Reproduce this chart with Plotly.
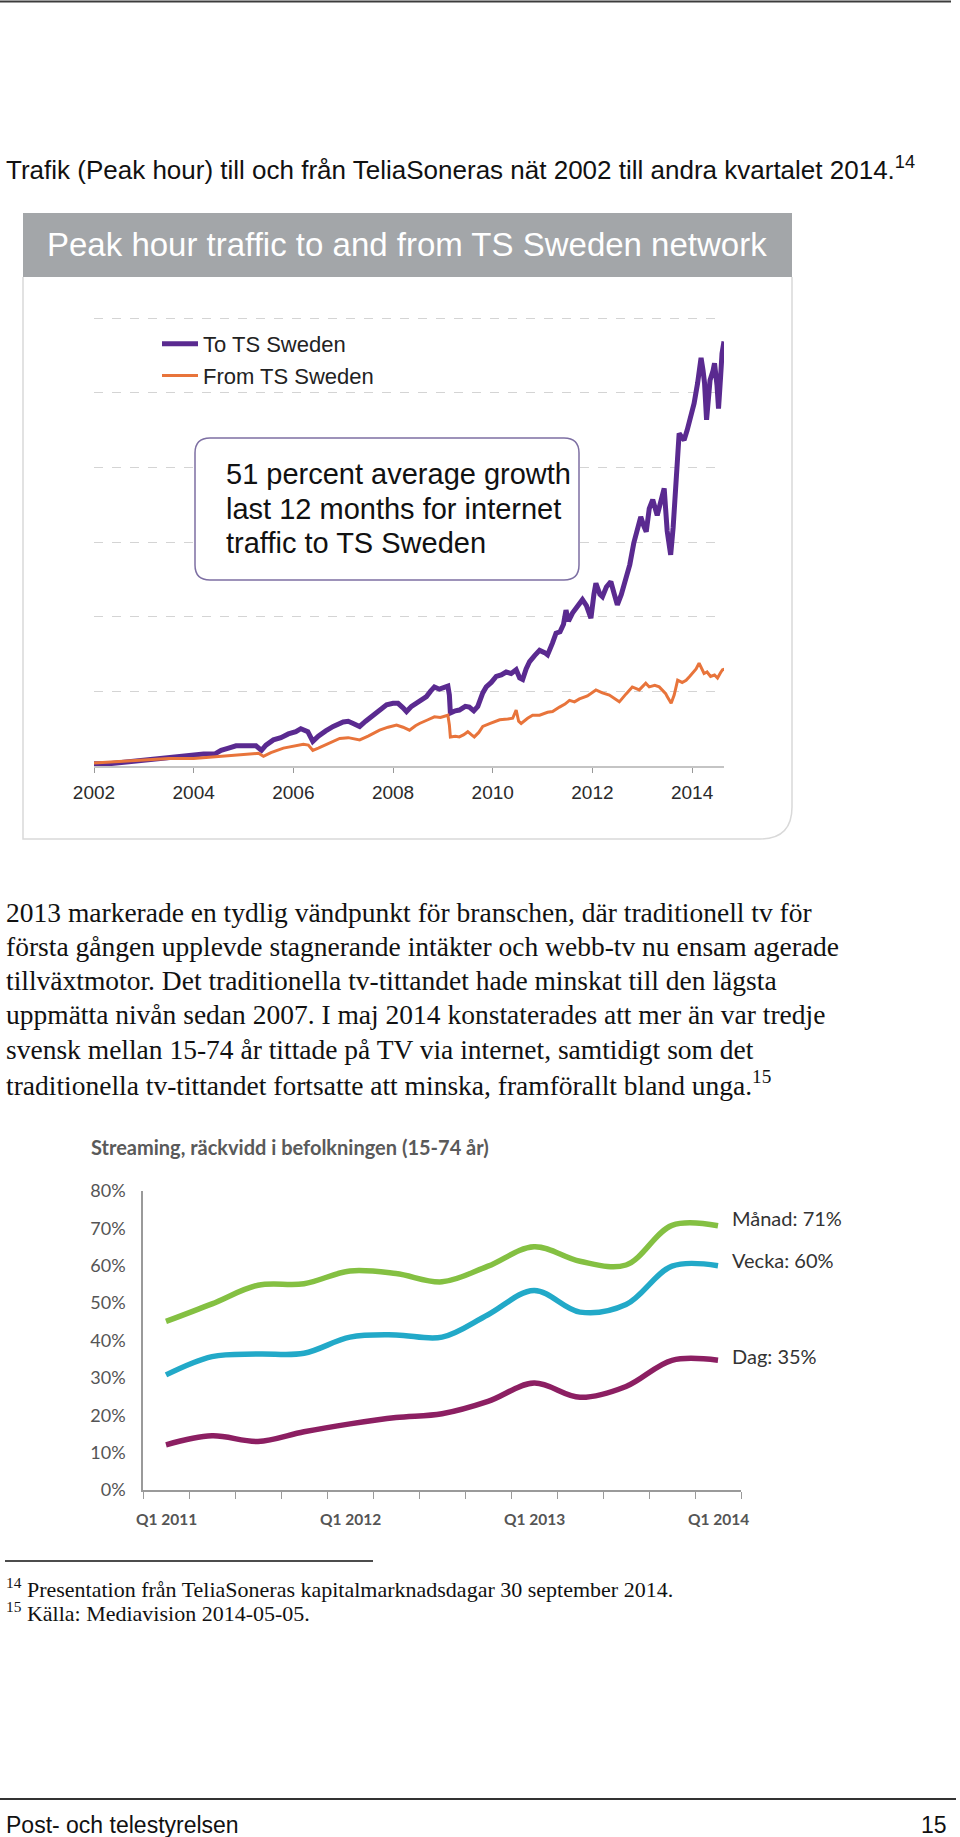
import plotly.graph_objects as go

# ---------------- data: chart 1 (peak hour traffic, relative units) ----------------
to_years = [2002.00, 2002.30, 2002.60, 2002.90, 2003.10, 2003.40, 2003.70, 2004.00, 2004.20, 2004.42,
            2004.55, 2004.70, 2004.85, 2005.06, 2005.25, 2005.36, 2005.45, 2005.60, 2005.75, 2005.90,
            2006.05, 2006.15, 2006.29, 2006.39, 2006.50, 2006.65, 2006.80, 2007.00, 2007.10, 2007.20,
            2007.33, 2007.45, 2007.60, 2007.75, 2007.87, 2008.00, 2008.10, 2008.20, 2008.27, 2008.37,
            2008.47, 2008.57, 2008.67, 2008.75, 2008.83, 2008.93, 2009.03, 2009.10, 2009.13, 2009.15,
            2009.25, 2009.33, 2009.45, 2009.53, 2009.62, 2009.70, 2009.80, 2009.87, 2009.97, 2010.07,
            2010.17, 2010.27, 2010.37, 2010.47, 2010.54, 2010.60, 2010.67, 2010.74, 2010.84, 2010.94,
            2011.04, 2011.10, 2011.20, 2011.27, 2011.35, 2011.42, 2011.47, 2011.52, 2011.60, 2011.70,
            2011.80, 2011.88, 2011.97, 2012.03, 2012.07, 2012.15, 2012.20, 2012.28, 2012.37, 2012.44,
            2012.50, 2012.58, 2012.67, 2012.75, 2012.83, 2012.90, 2012.97, 2013.03, 2013.08, 2013.14,
            2013.21, 2013.30, 2013.37, 2013.44, 2013.50, 2013.57, 2013.62, 2013.67, 2013.71, 2013.74,
            2013.80, 2013.84, 2013.90, 2013.94, 2014.00, 2014.04, 2014.11, 2014.18, 2014.22, 2014.25,
            2014.29, 2014.33, 2014.36, 2014.42, 2014.45, 2014.50, 2014.53, 2014.57, 2014.60, 2014.64]
to_values = [0.03, 0.03, 0.05, 0.07, 0.08, 0.10, 0.13, 0.15, 0.16, 0.16,
             0.21, 0.24, 0.27, 0.27, 0.27, 0.21, 0.28, 0.35, 0.38, 0.43,
             0.46, 0.50, 0.46, 0.33, 0.40, 0.47, 0.53, 0.59, 0.60, 0.57,
             0.53, 0.60, 0.68, 0.75, 0.82, 0.84, 0.84, 0.78, 0.73, 0.80,
             0.84, 0.88, 0.93, 1.00, 1.06, 1.03, 1.06, 1.07, 0.95, 0.71,
             0.74, 0.75, 0.80, 0.79, 0.74, 0.80, 0.98, 1.06, 1.12, 1.20,
             1.22, 1.26, 1.24, 1.29, 1.18, 1.16, 1.30, 1.40, 1.48, 1.55,
             1.52, 1.49, 1.65, 1.78, 1.80, 1.90, 2.09, 1.94, 2.05, 2.15,
             2.23, 2.15, 1.98, 2.30, 2.45, 2.30, 2.27, 2.40, 2.47, 2.30,
             2.16, 2.30, 2.49, 2.70, 2.99, 3.20, 3.34, 3.22, 3.14, 3.45,
             3.57, 3.36, 3.55, 3.72, 3.15, 2.83, 3.20, 3.80, 4.28, 4.46,
             4.40, 4.37, 4.50, 4.59, 4.75, 4.86, 5.13, 5.47, 5.30, 5.13,
             4.64, 5.00, 5.17, 5.30, 5.40, 5.10, 4.79, 5.20, 5.53, 5.69]

from_years = [2002.00, 2002.50, 2003.00, 2003.50, 2004.00, 2004.40, 2004.80, 2005.10, 2005.30, 2005.40,
              2005.55, 2005.80, 2006.00, 2006.20, 2006.30, 2006.39, 2006.50, 2006.60, 2006.80, 2006.93,
              2007.10, 2007.33, 2007.50, 2007.73, 2007.90, 2008.07, 2008.20, 2008.33, 2008.45, 2008.53,
              2008.70, 2008.83, 2008.95, 2009.10, 2009.13, 2009.15, 2009.25, 2009.33, 2009.42, 2009.50,
              2009.57, 2009.63, 2009.72, 2009.80, 2009.95, 2010.14, 2010.30, 2010.40, 2010.47, 2010.52,
              2010.57, 2010.70, 2010.80, 2010.94, 2011.10, 2011.20, 2011.34, 2011.45, 2011.54, 2011.64,
              2011.74, 2011.90, 2012.07, 2012.20, 2012.34, 2012.45, 2012.54, 2012.68, 2012.80, 2012.94,
              2013.07, 2013.14, 2013.25, 2013.34, 2013.47, 2013.50, 2013.58, 2013.64, 2013.71, 2013.80,
              2013.88, 2013.95, 2014.01, 2014.08, 2014.14, 2014.20, 2014.24, 2014.30, 2014.37, 2014.45,
              2014.51, 2014.57, 2014.61, 2014.66]
from_values = [0.04, 0.06, 0.09, 0.10, 0.10, 0.12, 0.15, 0.16, 0.17, 0.13,
               0.18, 0.24, 0.27, 0.29, 0.28, 0.21, 0.24, 0.27, 0.33, 0.37,
               0.38, 0.35, 0.40, 0.48, 0.52, 0.55, 0.52, 0.48, 0.54, 0.57,
               0.62, 0.66, 0.65, 0.68, 0.55, 0.39, 0.40, 0.39, 0.42, 0.46,
               0.42, 0.39, 0.45, 0.53, 0.57, 0.62, 0.63, 0.64, 0.75, 0.60,
               0.57, 0.64, 0.68, 0.68, 0.72, 0.73, 0.79, 0.83, 0.88, 0.86,
               0.90, 0.94, 1.02, 0.98, 0.95, 0.90, 0.86, 0.97, 1.06, 1.02,
               1.11, 1.06, 1.08, 1.06, 0.97, 0.93, 0.84, 0.95, 1.15, 1.12,
               1.15, 1.20, 1.24, 1.30, 1.38, 1.30, 1.24, 1.26, 1.20, 1.22,
               1.18, 1.25, 1.29, 1.30]

traffic_ticks = [2002, 2004, 2006, 2008, 2010, 2012, 2014]
traffic_series_names = ["To TS Sweden", "From TS Sweden"]

# ---------------- data: chart 2 (streaming reach, %) ----------------
quarters = ["Q1 2011", "Q2 2011", "Q3 2011", "Q4 2011",
            "Q1 2012", "Q2 2012", "Q3 2012", "Q4 2012",
            "Q1 2013", "Q2 2013", "Q3 2013", "Q4 2013", "Q1 2014"]
manad = [45.1, 49.8, 54.8, 55.2, 58.6, 57.9, 55.7, 59.9, 65.1, 61.2, 60.2, 70.8, 70.7]
vecka = [30.8, 35.7, 36.4, 36.6, 40.9, 41.5, 40.9, 46.9, 53.4, 47.6, 49.6, 59.9, 60.0]
dag = [12.1, 14.5, 13.0, 15.6, 17.7, 19.4, 20.4, 23.7, 28.6, 24.8, 27.7, 34.7, 34.7]
stream_labels = ["Månad: 71%", "Vecka: 60%", "Dag: 35%"]
pct_ticks = [0, 10, 20, 30, 40, 50, 60, 70, 80]

# ---------------- page geometry helpers ----------------
W, H = 960, 1837


def X(px):
    return px / W


def Y(py):
    return 1 - py / H


fig = go.Figure()

# chart 1 traces
fig.add_trace(go.Scatter(x=to_years, y=to_values, mode="lines", name=traffic_series_names[0],
                         line=dict(color="#5a2a90", width=5), xaxis="x", yaxis="y",
                         legendgroup="a"))
fig.add_trace(go.Scatter(x=from_years, y=from_values, mode="lines", name=traffic_series_names[1],
                         line=dict(color="#e8743b", width=3), xaxis="x", yaxis="y",
                         legendgroup="a"))

# chart 2 traces
qx = list(range(len(quarters)))
stream_colors = ["#84c042", "#22a9c8", "#8c1f62"]
for vals, col in zip([manad, vecka, dag], stream_colors):
    fig.add_trace(go.Scatter(x=qx, y=vals, mode="lines", showlegend=False,
                             line=dict(color=col, width=5.5, shape="spline", smoothing=1.0),
                             xaxis="x2", yaxis="y2"))

annotations = []
# right-end labels of chart 2, anchored to data coordinates
label_y = [manad[-1] + 2.0, vecka[-1] + 1.5, dag[-1] + 1.2]
for t, yv in zip(stream_labels, label_y):
    annotations.append(dict(text=t, x=len(quarters) - 1 + 0.26, y=yv, xref="x2", yref="y2",
                            xanchor="left", yanchor="middle", showarrow=False,
                            font=dict(family="Lato", size=20, color="#333333")))
# quarter labels of chart 2 (only Q1 of each year), centred on their category
for i, q in enumerate(quarters):
    if q.startswith("Q1"):
        annotations.append(dict(text=q, x=i, y=Y(1519), xref="x2", yref="paper",
                                xanchor="center", yanchor="middle", showarrow=False,
                                font=dict(family="Lato", size=15.5, color="#555555", weight="bold")))

serif = "Liberation Serif"
sans = "Liberation Sans"


def txt(text, px, py, size, family=sans, color="#111111", xanchor="left", weight=None):
    f = dict(family=family, size=size, color=color)
    if weight:
        f["weight"] = weight
    annotations.append(dict(text=text, x=X(px), y=Y(py), xref="paper", yref="paper",
                            xanchor=xanchor, yanchor="middle", showarrow=False, font=f))


txt("Trafik (Peak hour) till och från TeliaSoneras nät 2002 till andra kvartalet 2014.<sup>14</sup>",
    4, 168, 26)
txt("Peak hour traffic to and from TS Sweden network", 45, 244, 33, color="#ffffff")
txt("51 percent average growth", 224, 474, 29)
txt("last 12 months for internet", 224, 509, 29)
txt("traffic to TS Sweden", 224, 543, 29)

body = ["2013 markerade en tydlig vändpunkt för branschen, där traditionell tv för",
        "första gången upplevde stagnerande intäkter och webb-tv nu ensam agerade",
        "tillväxtmotor. Det traditionella tv-tittandet hade minskat till den lägsta",
        "uppmätta nivån sedan 2007. I maj 2014 konstaterades att mer än var tredje",
        "svensk mellan 15-74 år tittade på TV via internet, samtidigt som det",
        "traditionella tv-tittandet fortsatte att minska, framförallt bland unga.<sup>15</sup>"]
for i, line in enumerate(body):
    txt(line, 4, 912 + i * 34.3, 27.5, family=serif)

txt("Streaming, räckvidd i befolkningen (15-74 år)", 89, 1147, 20, family="Lato",
    color="#5a5a5a", weight="bold")

txt("<sup>14</sup> Presentation från TeliaSoneras kapitalmarknadsdagar 30 september 2014.",
    4, 1588, 22, family=serif)
txt("<sup>15</sup> Källa: Mediavision 2014-05-05.", 4, 1612, 22, family=serif)
txt("Post- och telestyrelsen", 4, 1825, 23)
txt("15", 949, 1825, 23, xanchor="right")


def rrect(x0, y0, x1, y1, r):
    return (f"M {X(x0 + r)},{Y(y0)} L {X(x1 - r)},{Y(y0)} Q {X(x1)},{Y(y0)} {X(x1)},{Y(y0 + r)} "
            f"L {X(x1)},{Y(y1 - r)} Q {X(x1)},{Y(y1)} {X(x1 - r)},{Y(y1)} "
            f"L {X(x0 + r)},{Y(y1)} Q {X(x0)},{Y(y1)} {X(x0)},{Y(y1 - r)} "
            f"L {X(x0)},{Y(y0 + r)} Q {X(x0)},{Y(y0)} {X(x0 + r)},{Y(y0)} Z")


shapes = [
    # top rule
    dict(type="line", xref="paper", yref="paper", x0=X(0), x1=X(951), y0=Y(1.5), y1=Y(1.5),
         line=dict(color="#3c3c3c", width=2)),
    # chart 1 frame (white panel with soft border and rounded bottom-right corner)
    dict(type="path", xref="paper", yref="paper", layer="below",
         path=(f"M {X(23)},{Y(277)} L {X(23)},{Y(839)} L {X(760)},{Y(839)} "
               f"Q {X(792)},{Y(839)} {X(792)},{Y(807)} L {X(792)},{Y(277)}"),
         line=dict(color="#d9d9d9", width=1.5), fillcolor="rgba(0,0,0,0)"),
    # chart 1 grey header
    dict(type="rect", xref="paper", yref="paper", layer="below",
         x0=X(23), x1=X(792), y0=Y(277), y1=Y(213), fillcolor="#a3a6a9", line=dict(width=0)),
    # callout box
    dict(type="path", xref="paper", yref="paper", layer="above", path=rrect(195, 438, 579, 580, 15),
         fillcolor="#ffffff", line=dict(color="#7d6fa3", width=1.5)),
    # footnote separator
    dict(type="line", xref="paper", yref="paper", x0=X(5), x1=X(373), y0=Y(1561), y1=Y(1561),
         line=dict(color="#111111", width=1.5)),
    # footer rule
    dict(type="line", xref="paper", yref="paper", x0=X(0), x1=X(956), y0=Y(1799), y1=Y(1799),
         line=dict(color="#333333", width=2)),
]

axis_font = dict(family=sans, size=19, color="#2a2a2a")
stream_axis_font = dict(family="Lato", size=18, color="#555555")

y_top = 6.02
fig.update_layout(
    width=W, height=H, margin=dict(l=0, r=0, t=0, b=0, autoexpand=False),
    paper_bgcolor="#ffffff", plot_bgcolor="rgba(0,0,0,0)",
    showlegend=True,
    legend=dict(x=X(157), y=Y(323), xanchor="left", yanchor="top", bgcolor="rgba(0,0,0,0)",
                font=dict(family=sans, size=22, color="#222222"), itemwidth=36,
                tracegroupgap=0, traceorder="normal"),
    xaxis=dict(domain=[X(94), X(724)], range=[2002, 2014.64], anchor="y",
               tickvals=traffic_ticks, ticktext=[str(t) for t in traffic_ticks],
               ticks="outside", ticklen=5, tickcolor="#999999", tickwidth=1,
               showline=True, linecolor="#c4c4c4", linewidth=1.5, showgrid=False, zeroline=False,
               tickfont=axis_font, ticklabelstandoff=3, fixedrange=True, automargin=False),
    yaxis=dict(domain=[Y(766), Y(766 - y_top * 74.6)], range=[0, y_top], anchor="x",
               tickvals=[1, 2, 3, 4, 5, 6], showticklabels=False, ticks="",
               showgrid=True, gridcolor="#d4d4d4", griddash="dash", gridwidth=1,
               showline=False, zeroline=False, fixedrange=True, automargin=False),
    xaxis2=dict(domain=[X(143), X(741)], range=[-0.5, len(quarters) - 0.5], anchor="y2",
                tickvals=[i - 0.5 for i in range(len(quarters) + 1)], showticklabels=False,
                ticks="outside", ticklen=7, tickcolor="#9a9a9a", tickwidth=1.2,
                showline=True, linecolor="#9a9a9a", linewidth=1.5, showgrid=False, zeroline=False,
                fixedrange=True, automargin=False),
    yaxis2=dict(domain=[Y(1490), Y(1191)], range=[0, 80], anchor="x2",
                tickvals=pct_ticks, ticktext=[f"{v}%" for v in pct_ticks], ticks="",
                showline=True, linecolor="#9a9a9a", linewidth=1.5, showgrid=False, zeroline=False,
                tickfont=stream_axis_font, ticklabelstandoff=12, fixedrange=True, automargin=False),
    annotations=annotations,
    shapes=shapes,
)

fig.write_html("out.html", config={"displayModeBar": False})
